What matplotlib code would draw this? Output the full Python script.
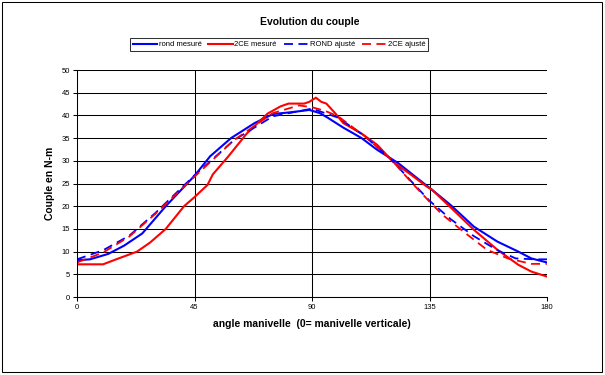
# plot.py - Evolution du couple (rond vs 2CE)
import matplotlib
matplotlib.use('Agg')
import matplotlib.pyplot as plt
from matplotlib.patches import Rectangle

plt.rcParams['font.family'] = ['Liberation Sans', 'DejaVu Sans']

# measured data : angle (deg) / torque (N-m)
rond_mes_x = [0, 5, 12, 18, 25, 34, 45, 51, 59, 68, 75, 82, 89, 93, 96, 102, 109, 115,
              123, 130, 136, 143, 152, 161, 169, 174, 180]
rond_mes_y = [8.1, 8.3, 9.5, 11.3, 14.0, 20.0, 26.7, 31.0, 35.0, 38.3, 40.3, 40.7, 41.2,
              40.5, 39.5, 37.3, 35.0, 32.4, 29.5, 26.3, 23.6, 20.3, 15.5, 12.2, 10.0, 8.5, 7.6]

ce_mes_x = [0, 10, 15, 23, 28, 34, 41, 45, 50, 52, 58, 65, 73, 78, 81, 87, 89, 91.5, 93.5,
            95.5, 99, 102, 109, 115, 121, 128, 134, 136, 143.5, 152, 161, 169, 174, 180]
ce_mes_y = [7.2, 7.2, 8.3, 10.0, 12.0, 15.0, 20.0, 22.0, 24.7, 27.0, 31.0, 36.0, 40.4,
            42.0, 42.6, 42.6, 43.0, 43.9, 43.0, 42.6, 40.4, 38.3, 36.0, 33.5, 29.8, 26.9,
            24.3, 23.6, 19.5, 14.8, 10.4, 7.1, 5.6, 4.5]

# fitted curves
rond_aj_x = [0, 10, 20, 30, 45, 60, 75, 90, 100, 110, 120, 128, 135, 143, 152, 161, 168, 175, 180]
rond_aj_y = [8.3, 10.3, 13.5, 18.5, 26.8, 34.5, 39.8, 41.5, 39.5, 35.5, 30.5, 25.5, 21.2,
             17.2, 13.4, 10.3, 8.5, 8.3, 8.3]

ce_aj_x = [0, 10, 20, 30, 45, 60, 75, 85, 90, 95, 100, 110, 120, 128, 135, 140, 148, 157,
           165, 174, 180]
ce_aj_y = [7.6, 9.8, 13.3, 18.3, 26.5, 34.5, 40.5, 42.2, 41.8, 41.0, 39.8, 35.5, 30.5,
           25.3, 21.0, 18.1, 14.4, 10.4, 8.5, 7.3, 7.3]

x_ticks = [0, 45, 90, 135, 180]
y_ticks = list(range(0, 51, 5))

fig = plt.figure(figsize=(6.05, 3.75), dpi=100)
ax = fig.add_axes([77 / 605, 1 - 297 / 375, 470 / 605, 227 / 375])

ax.plot(rond_mes_x, rond_mes_y, color='#0000ff', lw=1.5, label='rond mesuré')
ax.plot(ce_mes_x, ce_mes_y, color='#ff0000', lw=1.5, label='2CE mesuré')
ax.plot(rond_aj_x, rond_aj_y, color='#0000ff', lw=1.3, ls=(0, (5, 3)), label='ROND ajusté')
ax.plot(ce_aj_x, ce_aj_y, color='#ff0000', lw=1.3, ls=(0, (5, 3)), label='2CE ajusté')

ax.set_xlim(0, 180)
ax.set_ylim(0, 50)
ax.set_xticks(x_ticks)
ax.set_yticks(y_ticks)
ax.tick_params(labelsize=5.5, length=3, width=0.75, direction='out', pad=2)
ax.grid(True, color='black', lw=0.75)
ax.set_axisbelow(True)
# no vertical line on the last / first tick
ax.xaxis.get_gridlines()[0].set_visible(False)
ax.xaxis.get_gridlines()[-1].set_visible(False)

for s in ['top', 'right']:
    ax.spines[s].set_visible(False)
for s in ['left', 'bottom']:
    ax.spines[s].set_linewidth(0.75)

ax.set_xlabel('angle manivelle  (0= manivelle verticale)', fontsize=7.5,
              fontweight='bold', labelpad=6)
ax.set_ylabel('Couple en N-m', fontsize=7.5, fontweight='bold', labelpad=5)

fig.text(0.512, 1 - 22 / 375, 'Evolution du couple', ha='center', va='center',
         fontsize=7.5, fontweight='bold')

leg = fig.legend(loc='center', bbox_to_anchor=(279 / 605, 1 - 44.5 / 375), ncol=4,
                 fontsize=5.5, frameon=True, fancybox=False, handlelength=3.2,
                 handletextpad=0.2, columnspacing=0.9, borderpad=0.35,
                 borderaxespad=0)
leg.get_frame().set_edgecolor('black')
leg.get_frame().set_linewidth(0.75)

# outer chart frame
fig.patches.append(Rectangle((2 / 605, 3 / 375), 600 / 605, 370 / 375,
                             transform=fig.transFigure, fill=False,
                             ec='black', lw=0.75))

fig.savefig('out.png', dpi=100)
